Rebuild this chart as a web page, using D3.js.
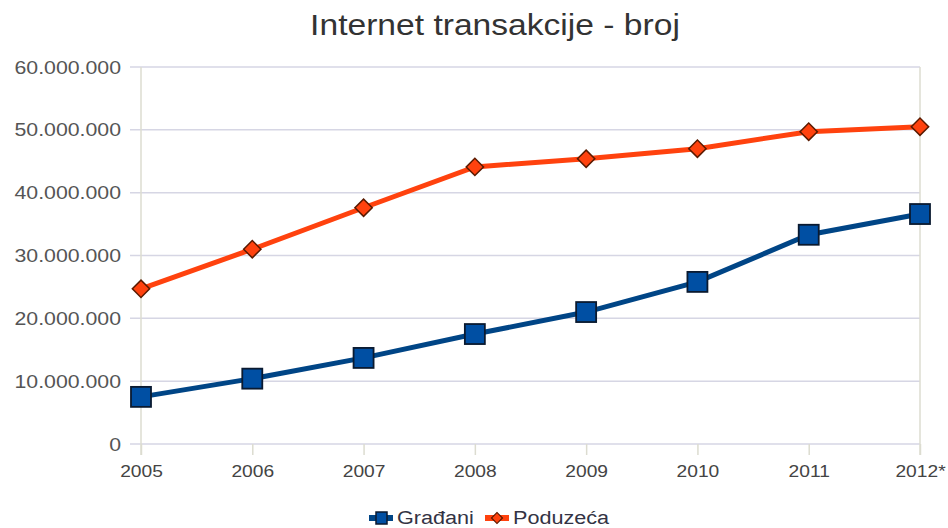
<!DOCTYPE html>
<html>
<head>
<meta charset="utf-8">
<script src="https://cdn.jsdelivr.net/npm/d3@7"></script>
<style>
  body { margin: 0; background: #fff; }
  svg { font-family: "Liberation Sans", Arial, sans-serif; }
</style>
</head>
<body>
<svg id="chart" width="948" height="528"></svg>
<script>
const years = ["2005", "2006", "2007", "2008", "2009", "2010", "2011", "2012*"];
const gradjani = [7.5e6, 10.4e6, 13.7e6, 17.5e6, 21.0e6, 25.8e6, 33.3e6, 36.6e6];
const poduzeca = [24.7e6, 31.0e6, 37.6e6, 44.1e6, 45.4e6, 47.0e6, 49.7e6, 50.5e6];
const yTicks = [0, 10e6, 20e6, 30e6, 40e6, 50e6, 60e6];

const svg = d3.select('#chart');
const plotL = 141, plotR = 920, plotT = 67, plotB = 444;

const x = d3.scalePoint().domain(years).range([plotL, plotR]);
const y = d3.scaleLinear().domain([0, 60e6]).range([plotB, plotT]);

const fmt = v => v === 0 ? "0" : d3.format(",")(v).replace(/,/g, ".");

// the source picture is a bit wider than plain Arial, so widen text a little
function widen(sel, k) {
  sel.each(function() {
    const w = this.getComputedTextLength();
    d3.select(this).attr('textLength', w * k).attr('lengthAdjust', 'spacingAndGlyphs');
  });
}

// title
svg.append('text')
  .attr('x', 495).attr('y', 35)
  .attr('text-anchor', 'middle')
  .attr('font-size', 30)
  .attr('fill', '#333')
  .text("Internet transakcije - broj")
  .call(widen, 1.12);

// horizontal grid
svg.append('g')
  .selectAll('line')
  .data(yTicks)
  .enter().append('line')
  .attr('x1', plotL - 11).attr('x2', plotR)
  .attr('y1', d => y(d)).attr('y2', d => y(d))
  .attr('stroke', '#d6d6e4').attr('stroke-width', 1.5);

// vertical axis lines
svg.append('line')
  .attr('x1', plotL).attr('x2', plotL)
  .attr('y1', plotT).attr('y2', plotB + 11)
  .attr('stroke', '#dcdcd0').attr('stroke-width', 1.5);
svg.append('line')
  .attr('x1', plotR).attr('x2', plotR)
  .attr('y1', plotT).attr('y2', plotB + 11)
  .attr('stroke', '#dcdcd0').attr('stroke-width', 1.5);

// x ticks
const xAxis = d3.axisBottom(x).tickSize(11).tickPadding(10);
const gx = svg.append('g')
  .attr('transform', `translate(0,${plotB})`)
  .call(xAxis);
gx.select('.domain').remove();
gx.selectAll('.tick line').attr('stroke', '#dcdcd0').attr('stroke-width', 1.5);
gx.selectAll('.tick text')
  .attr('font-size', 17).attr('fill', '#444')
  .attr('font-family', '"Liberation Sans", Arial, sans-serif')
  .call(widen, 1.13);

// y labels
const yAxis = d3.axisLeft(y).tickValues(yTicks).tickFormat(fmt).tickSize(0).tickPadding(20);
const gy = svg.append('g')
  .attr('transform', `translate(${plotL},0)`)
  .call(yAxis);
gy.select('.domain').remove();
gy.selectAll('.tick text')
  .attr('font-size', 19).attr('fill', '#555')
  .attr('font-family', '"Liberation Sans", Arial, sans-serif')
  .call(widen, 1.12);

const line = d3.line().x((d, i) => x(years[i])).y(d => y(d));

// series
svg.append('path')
  .datum(poduzeca)
  .attr('d', line)
  .attr('fill', 'none').attr('stroke', '#ff420e').attr('stroke-width', 5);

svg.append('path')
  .datum(gradjani)
  .attr('d', line)
  .attr('fill', 'none').attr('stroke', '#004586').attr('stroke-width', 5);

const diamond = d3.symbol().type(d3.symbolSquare).size(150);

svg.append('g')
  .selectAll('path')
  .data(poduzeca)
  .enter().append('path')
  .attr('d', diamond)
  .attr('transform', (d, i) => `translate(${x(years[i])},${y(d)}) rotate(45)`)
  .attr('fill', '#ff420e').attr('stroke', '#5a1a00').attr('stroke-width', 1.5);

svg.append('g')
  .selectAll('rect')
  .data(gradjani)
  .enter().append('rect')
  .attr('x', (d, i) => x(years[i]) - 10)
  .attr('y', d => y(d) - 10)
  .attr('width', 20).attr('height', 20)
  .attr('fill', '#004fa3').attr('stroke', '#0a1a30').attr('stroke-width', 1.8);

// legend
const legend = [
  { name: "Građani", color: '#004586', mark: 'square', x: 369 },
  { name: "Poduzeća", color: '#ff420e', mark: 'diamond', x: 485 }
];
const lg = svg.append('g');
legend.forEach(l => {
  lg.append('line')
    .attr('x1', l.x).attr('x2', l.x + 24)
    .attr('y1', 518).attr('y2', 518)
    .attr('stroke', l.color).attr('stroke-width', 6);
  if (l.mark === 'square') {
    lg.append('rect')
      .attr('x', l.x + 7).attr('y', 512).attr('width', 11).attr('height', 12)
      .attr('fill', '#004fa3').attr('stroke', '#0a1a30').attr('stroke-width', 1.5);
  } else {
    lg.append('path')
      .attr('d', d3.symbol().type(d3.symbolSquare).size(60))
      .attr('transform', `translate(${l.x + 12},518) rotate(45)`)
      .attr('fill', '#ff420e').attr('stroke', '#5a1a00').attr('stroke-width', 1.2);
  }
  lg.append('text')
    .attr('x', l.x + 28).attr('y', 524)
    .attr('font-size', 18).attr('fill', '#334')
    .text(l.name)
    .call(widen, 1.2);
});
</script>
</body>
</html>
